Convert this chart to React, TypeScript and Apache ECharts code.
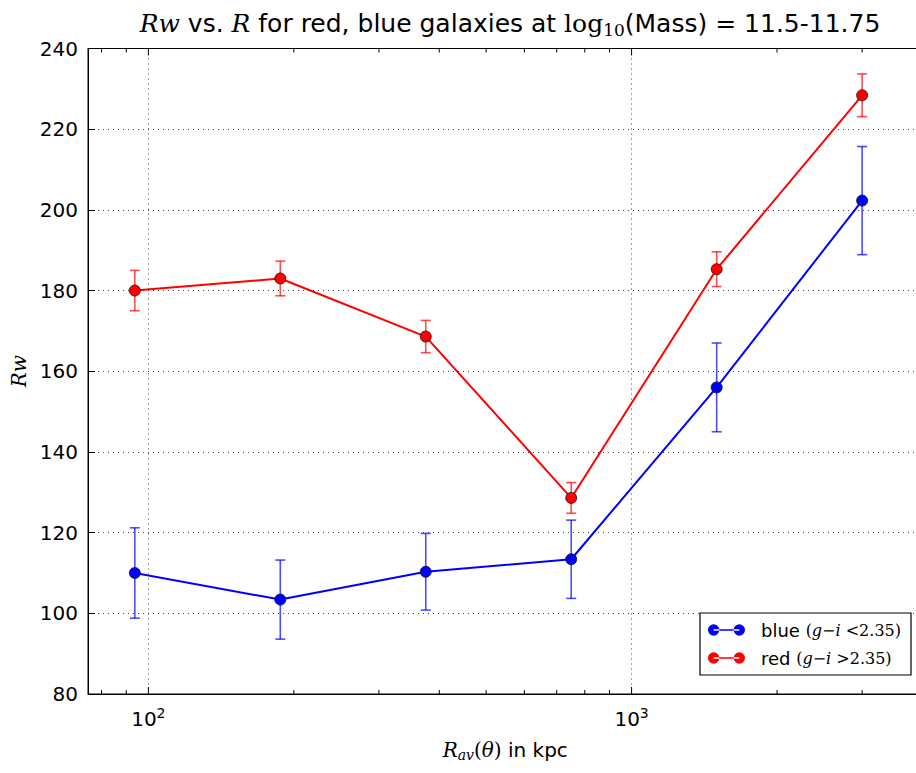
import React, { useEffect, useRef } from "react";
import * as echarts from "echarts";

// ---- data ----
const xValues = [93.75, 187.5, 375, 750, 1500, 3000];
const redValues = [180.0, 183.0, 168.6, 128.6, 185.3, 228.4];
const redErrors = [5.0, 4.3, 4.0, 3.8, 4.3, 5.3];
const blueValues = [110.0, 103.4, 110.3, 113.4, 156.0, 202.3];
const blueErrors = [11.2, 9.8, 9.5, 9.7, 11.0, 13.4];
const xMajorTicks = [100, 1000];
const xMinorTicks = [80, 90, 200, 300, 400, 500, 600, 700, 800, 900, 2000, 3000];
const yMin = 80;
const yMax = 240;
const yInterval = 20;
const xMin = 75;
const xMax = 4000;

const BLUE = "#0000ff";
const RED = "#ff0000";
const SANS = "DejaVu Sans";
const MATH = "DejaVu Serif";

function errorSeries(name: string, vals: number[], errs: number[], color: string) {
  return {
    type: "custom",
    name: name + "-err",
    xAxisIndex: 0,
    yAxisIndex: 0,
    z: 2,
    silent: true,
    encode: { x: 0, y: [1, 2] },
    data: xValues.map((x, i) => [x, vals[i] - errs[i], vals[i] + errs[i]]),
    renderItem: (params: any, api: any) => {
      const x = api.value(0);
      const lo = api.coord([x, api.value(1)]);
      const hi = api.coord([x, api.value(2)]);
      const cap = 5;
      const st = { stroke: color, lineWidth: 1.6, opacity: 0.7 };
      return {
        type: "group",
        children: [
          { type: "line", shape: { x1: lo[0], y1: lo[1], x2: hi[0], y2: hi[1] }, style: st },
          { type: "line", shape: { x1: lo[0] - cap, y1: lo[1], x2: lo[0] + cap, y2: lo[1] }, style: st },
          { type: "line", shape: { x1: hi[0] - cap, y1: hi[1], x2: hi[0] + cap, y2: hi[1] }, style: st },
        ],
      };
    },
  };
}

function tickSeries(values: number[], len: number) {
  return {
    type: "custom",
    name: "ticks" + len,
    xAxisIndex: 0,
    yAxisIndex: 0,
    z: 5,
    silent: true,
    encode: { x: 0, y: 1 },
    data: values.map((v) => [v, yMin]),
    renderItem: (params: any, api: any) => {
      const v = api.value(0);
      const b = api.coord([v, yMin]);
      const t = api.coord([v, yMax]);
      const st = { stroke: "#000", lineWidth: 1 };
      return {
        type: "group",
        children: [
          { type: "line", shape: { x1: b[0], y1: b[1], x2: b[0], y2: b[1] - len }, style: st },
          { type: "line", shape: { x1: t[0], y1: t[1], x2: t[0], y2: t[1] + len }, style: st },
        ],
      };
    },
  };
}

const legendIcon =
  "path://M0,5.5a5.5,5.5 0 1,0 11,0a5.5,5.5 0 1,0 -11,0Z M25,5.5a5.5,5.5 0 1,0 11,0a5.5,5.5 0 1,0 -11,0Z M5.5,4.7L30.5,4.7L30.5,6.3L5.5,6.3Z";

export default function App() {
  const ref = useRef<HTMLDivElement>(null);
  useEffect(() => {
    if (!ref.current) return;
    const chart = echarts.init(ref.current, undefined, { renderer: "svg" });
    const gridLine = { show: true, lineStyle: { type: [1, 4] as any, color: "#000", width: 1, opacity: 0.75 } };
    chart.setOption({
      animation: false,
      backgroundColor: "#fff",
      title: {
        text:
          "{mi|Rw}{t| vs. }{mi|R}{t| for red, blue galaxies at }{m|log}{sub|10}{t|(Mass) = 11.5-11.75}",
        left: 505,
        top: 4,
        textAlign: "center",
        textStyle: {
          fontWeight: "normal",
          rich: {
            t: { fontFamily: SANS, fontSize: 25, fontWeight: "normal", color: "#000" },
            mi: { fontFamily: MATH, fontStyle: "italic", fontWeight: "normal", fontSize: 25, color: "#000" },
            m: { fontFamily: MATH, fontWeight: "normal", fontSize: 25, color: "#000" },
            sub: { fontFamily: MATH, fontWeight: "normal", fontSize: 17, color: "#000", verticalAlign: "bottom", padding: [12, 0, 0, 0] },
          },
        },
      },
      grid: { left: 88, right: 17.5, top: 48.5, bottom: 79, show: true, borderColor: "#000", borderWidth: 1, backgroundColor: "transparent" },
      legend: {
        data: ["blue", "red"],
        orient: "vertical",
        left: 700,
        top: 613,
        padding: [8, 10, 8, 8],
        itemGap: 10,
        itemWidth: 37,
        itemHeight: 12,
        icon: legendIcon,
        backgroundColor: "#fff",
        borderColor: "#000",
        borderWidth: 1.2,
        itemStyle: { borderWidth: 0 },
        formatter: (name: string) =>
          name === "blue"
            ? "{t|blue }{p|(}{i|g}{p|−}{i|i}{p| <2.35)}"
            : "{t|red }{p|(}{i|g}{p|−}{i|i}{p| >2.35)}",
        textStyle: {
          rich: {
            t: { fontFamily: SANS, fontSize: 18, color: "#000", padding: [0, 0, 0, 11] },
            p: { fontFamily: MATH, fontSize: 16, color: "#000" },
            i: { fontFamily: MATH, fontStyle: "italic", fontSize: 16, color: "#000" },
          },
        },
      },
      xAxis: [
        {
          type: "log",
          logBase: 10,
          min: xMin,
          max: xMax,
          position: "bottom",
          axisLine: { show: true, lineStyle: { color: "#000", width: 1 } },
          axisTick: { show: false },
          splitLine: gridLine,
          axisLabel: {
            margin: 12,
            color: "#000",
            showMinLabel: false,
            formatter: (v: number) => {
              const e = Math.log10(v);
              if (Math.abs(e - Math.round(e)) > 1e-6) return "";
              return "{b|10}{s|" + Math.round(e) + "}";
            },
            rich: {
              b: { fontFamily: SANS, fontSize: 20, color: "#000" },
              s: { fontFamily: SANS, fontSize: 14, color: "#000", verticalAlign: "top", padding: [0, 0, 12, 0] },
            },
          },
          name: "{i|R}{sub|av}{m|(}{i|θ}{m|)}{t| in kpc}",
          nameLocation: "middle",
          nameGap: 44,
          nameTextStyle: {
            rich: {
              t: { fontFamily: SANS, fontSize: 20, color: "#000" },
              i: { fontFamily: MATH, fontStyle: "italic", fontSize: 20, color: "#000" },
              m: { fontFamily: MATH, fontSize: 20, color: "#000" },
              sub: { fontFamily: MATH, fontStyle: "italic", fontSize: 14, color: "#000", verticalAlign: "bottom", padding: [10, 0, 0, 0] },
            },
          },
        },
        {
          type: "log",
          logBase: 10,
          min: xMin,
          max: xMax,
          position: "top",
          axisLine: { show: true, lineStyle: { color: "#000", width: 1 } },
          axisTick: { show: false },
          axisLabel: { show: false },
          splitLine: { show: false },
        },
      ],
      yAxis: {
        type: "value",
        min: yMin,
        max: yMax,
        interval: yInterval,
        axisLine: { show: true, lineStyle: { color: "#000", width: 1 } },
        axisTick: { show: true, inside: true, length: 7, lineStyle: { color: "#000" } },
        splitLine: gridLine,
        axisLabel: { color: "#000", fontFamily: SANS, fontSize: 20, margin: 10 },
        name: "Rw",
        nameLocation: "middle",
        nameGap: 58,
        nameRotate: 90,
        nameTextStyle: { fontFamily: MATH, fontStyle: "italic", fontSize: 20, color: "#000" },
      },
      series: [
        errorSeries("blue", blueValues, blueErrors, BLUE),
        errorSeries("red", redValues, redErrors, RED),
        tickSeries(xMajorTicks, 7),
        tickSeries(xMinorTicks, 4),
        {
          type: "line",
          name: "blue",
          data: xValues.map((x, i) => [x, blueValues[i]]),
          z: 3,
          symbol: "circle",
          symbolSize: 11,
          lineStyle: { color: BLUE, width: 2 },
          itemStyle: { color: BLUE, borderColor: "#111", borderWidth: 0.8 },
        },
        {
          type: "line",
          name: "red",
          data: xValues.map((x, i) => [x, redValues[i]]),
          z: 3,
          symbol: "circle",
          symbolSize: 11,
          lineStyle: { color: RED, width: 2 },
          itemStyle: { color: RED, borderColor: "#111", borderWidth: 0.8 },
        },
      ],
    });
    return () => chart.dispose();
  }, []);
  return (
    <div
      ref={ref}
      style={{ position: "fixed", left: 0, top: 0, width: 940, height: 773, background: "#fff" }}
    />
  );
}
